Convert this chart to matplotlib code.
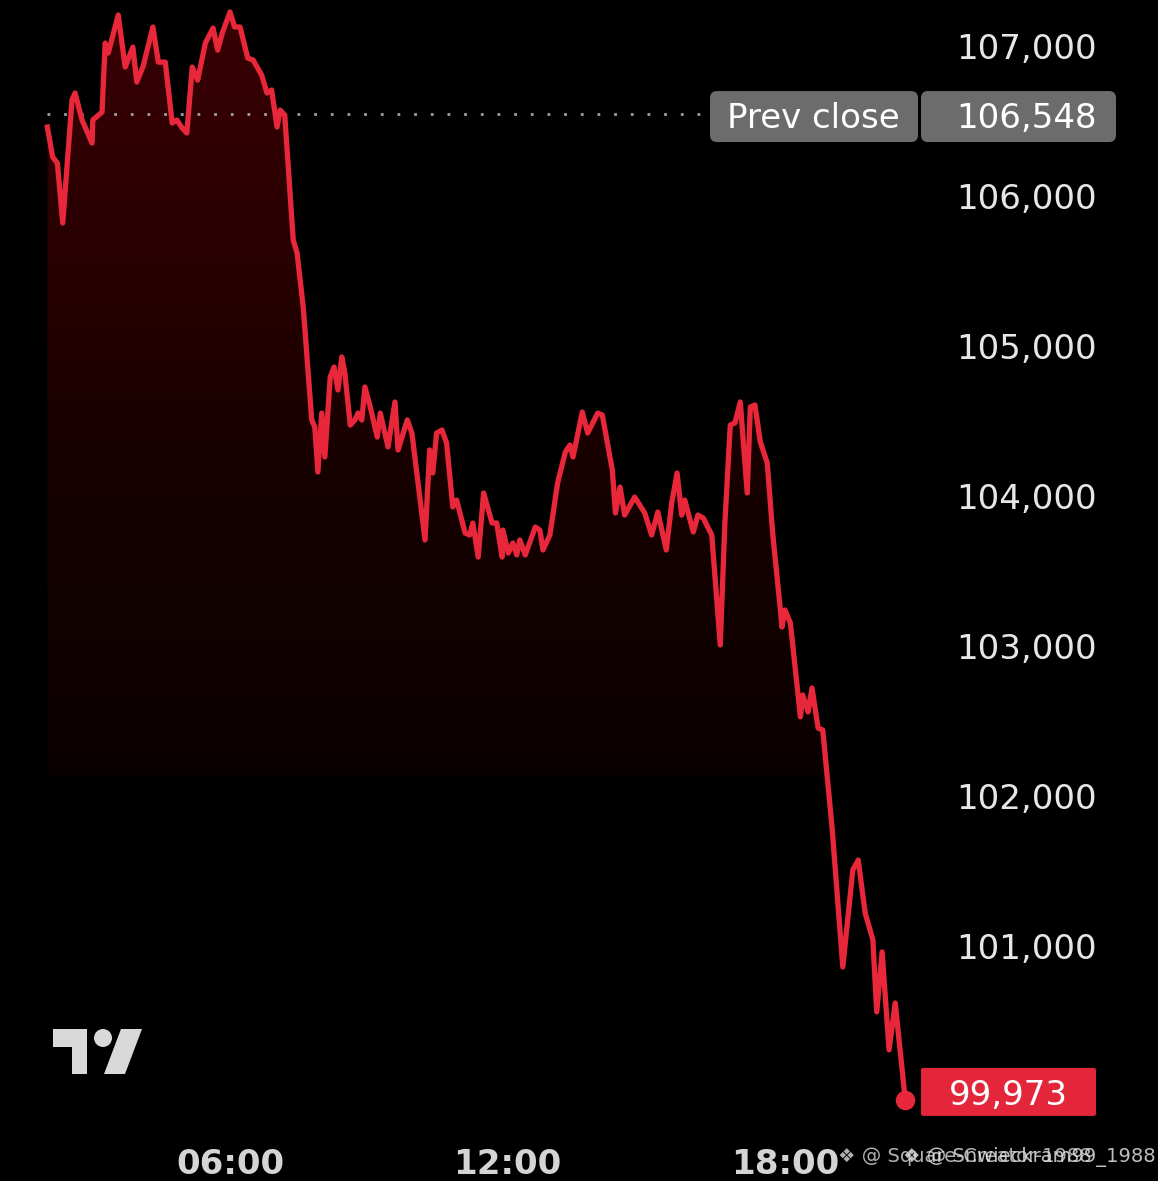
import numpy as np
import matplotlib
matplotlib.use("Agg")
import matplotlib.pyplot as plt
import matplotlib.transforms as mtransforms
from matplotlib.colors import LinearSegmentedColormap
from matplotlib.patches import FancyBboxPatch, Polygon, Ellipse

# price series (time of day, price)
times = [
    "02:03", "02:10", "02:16", "02:23", "02:35", "02:39", "02:48", "03:01", "03:02", "03:14",
    "03:18", "03:22", "03:35", "03:44", "03:54", "03:59", "04:07", "04:20", "04:27", "04:36",
    "04:45", "04:51", "04:58", "05:04", "05:11", "05:18", "05:28", "05:38", "05:44", "05:50",
    "06:00", "06:06", "06:13", "06:23", "06:30", "06:41", "06:48", "06:54", "07:01", "07:05",
    "07:11", "07:22", "07:27", "07:35", "07:46", "07:50", "07:54", "07:59", "08:03", "08:10",
    "08:15", "08:20", "08:25", "08:29", "08:36", "08:42", "08:46", "08:51", "08:55", "09:02",
    "09:11", "09:15", "09:25", "09:34", "09:38", "09:50", "09:56", "10:13", "10:19", "10:23",
    "10:28", "10:35", "10:41", "10:49", "10:54", "11:05", "11:11", "11:15", "11:22", "11:29",
    "11:40", "11:46", "11:53", "11:54", "12:01", "12:07", "12:12", "12:16", "12:23", "12:36",
    "12:42", "12:46", "12:55", "13:05", "13:15", "13:21", "13:25", "13:37", "13:44", "13:57",
    "14:03", "14:16", "14:20", "14:26", "14:32", "14:45", "14:58", "15:07", "15:15", "15:26",
    "15:33", "15:40", "15:46", "15:50", "16:01", "16:07", "16:14", "16:25", "16:36", "16:42",
    "16:49", "16:55", "17:02", "17:11", "17:15", "17:21", "17:28", "17:37", "17:44", "17:54",
    "17:56", "18:00", "18:07", "18:20", "18:23", "18:30", "18:35", "18:43", "18:49", "19:01",
    "19:15", "19:28", "19:35", "19:44", "19:54", "19:59", "20:06", "20:15", "20:23", "20:36",
]
prices = [
    106460, 106260, 106220, 105820, 106640, 106687, 106507, 106353, 106507, 106560,
    107020, 106953, 107207, 106860, 106993, 106760, 106860, 107127, 106893, 106893,
    106487, 106507, 106453, 106420, 106860, 106773, 107020, 107120, 106973, 107087,
    107227, 107127, 107127, 106920, 106907, 106807, 106687, 106707, 106460, 106573,
    106540, 105707, 105620, 105260, 104507, 104460, 104160, 104553, 104260, 104793,
    104860, 104707, 104927, 104820, 104473, 104507, 104553, 104507, 104727, 104593,
    104393, 104553, 104327, 104627, 104307, 104507, 104420, 103707, 104307, 104153,
    104420, 104440, 104353, 103927, 103973, 103753, 103740, 103820, 103593, 104020,
    103820, 103820, 103593, 103773, 103620, 103687, 103607, 103707, 103607, 103793,
    103773, 103640, 103740, 104087, 104293, 104340, 104260, 104560, 104420, 104553,
    104540, 104173, 103887, 104060, 103873, 103993, 103887, 103740, 103893, 103640,
    103953, 104153, 103873, 103973, 103760, 103873, 103853, 103740, 103007, 103820,
    104473, 104487, 104627, 104020, 104593, 104607, 104360, 104220, 103753, 103240,
    103127, 103240, 103153, 102527, 102673, 102560, 102720, 102453, 102440, 101793,
    100860, 101507, 101573, 101220, 101040, 100560, 100960, 100307, 100620, 99973,
]
prev_close = 106548
last_price = prices[-1]
price_ticks = [101000, 102000, 103000, 104000, 105000, 106000, 107000]
time_ticks = ["06:00", "12:00", "18:00"]
fill_floor = 102140

RED = "#e8283a"
W, H = 1158, 1181


def to_min(s):
    h, m = s.split(":")
    return int(h) * 60 + int(m)


x = np.array([to_min(t) for t in times])
y = np.array(prices)

fig = plt.figure(figsize=(W / 100, H / 100), dpi=100, facecolor="black")
ax = fig.add_axes([0, 0, 1, 1], facecolor="black")
ax.set_xlim(61.6, 1563.9)
ax.set_ylim(99433, 107307)
for s in ax.spines.values():
    s.set_visible(False)

# gradient area under the line, cut off at a floor
grad = np.linspace(0, 1, 256).reshape(-1, 1)
cmap = LinearSegmentedColormap.from_list(
    "fade", [(0, "#0b0000"), (0.35, "#150000"), (1, "#3a0004")])
img = ax.imshow(grad, extent=[x[0], x[-1], fill_floor, y.max()], origin="lower",
                aspect="auto", cmap=cmap, zorder=1, interpolation="bilinear")
area = Polygon(np.column_stack([np.r_[x, x[-1], x[0]],
                                np.r_[y, fill_floor, fill_floor]]),
               closed=True, facecolor="none", edgecolor="none")
ax.add_patch(area)
img.set_clip_path(area)

# previous close dotted line
ax.axhline(prev_close, xmin=47 / W, xmax=708 / W, color="#a0a0a0",
           lw=2.0, linestyle=(0, (1, 5)), zorder=2)

ax.plot(x, y, color=RED, lw=3.8, solid_joinstyle="round", zorder=3)
ax.plot(x[-1], y[-1], "o", ms=13, color=RED, zorder=4)

# axes ticks
ax.yaxis.tick_right()
ax.set_yticks(price_ticks, [f"{v:,}" for v in price_ticks], ha="right")
ax.tick_params(axis="y", length=0, pad=-43.9, labelsize=24.5, labelcolor="#e6e6e6")
ax.set_xticks([to_min(t) for t in time_ticks], time_ticks, fontweight="bold")
ax.tick_params(axis="x", length=0, pad=-24, labelsize=24.5, labelcolor="#d4d4d4")

# labels on the price axis
trans = mtransforms.blended_transform_factory(ax.transAxes, ax.transData)
box_h = 340
for x0, x1 in [(710, 918), (921, 1116)]:
    ax.add_patch(FancyBboxPatch((x0 / W, prev_close - box_h / 2 - 18), (x1 - x0) / W, box_h,
                                boxstyle="round,pad=0,rounding_size=0.006",
                                mutation_aspect=7778, transform=trans,
                                facecolor="#6c6c6c", edgecolor="none", zorder=5))
ax.text(813 / W, prev_close - 10, "Prev close", transform=trans, ha="center",
        va="center_baseline", fontsize=24.5, color="white", zorder=6)
ax.text(1097 / W, prev_close - 10, f"{prev_close:,}", transform=trans, ha="right",
        va="center_baseline", fontsize=24.5, color="white", zorder=6)

ax.add_patch(FancyBboxPatch((921 / W, last_price - 106), (1096 - 921) / W, 320,
                            boxstyle="round,pad=0,rounding_size=0.002",
                            mutation_aspect=7778, transform=trans,
                            facecolor="#e3263a", edgecolor="none", zorder=5))
ax.text(1008 / W, last_price + 54, f"{last_price:,}", transform=trans, ha="center",
        va="center_baseline", fontsize=24.5, color="white", zorder=6)

# TradingView logo


def px(pts):
    return [(a / W, 1 - b / H) for a, b in pts]


logo = "#d9d9d9"
ax.add_patch(Polygon(px([(53, 1029), (87, 1029), (87, 1074), (72, 1074), (72, 1047), (53, 1047)]),
                     transform=ax.transAxes, facecolor=logo, edgecolor="none"))
ax.add_patch(Polygon(px([(121, 1029), (142, 1029), (125, 1074), (104, 1074)]),
                     transform=ax.transAxes, facecolor=logo, edgecolor="none"))
ax.add_patch(Ellipse((103 / W, 1 - 1038 / H), 18 / W, 18 / H,
                     transform=ax.transAxes, facecolor=logo, edgecolor="none"))

# watermark (two overlapping stamps, as in the source image)
ax.text(838 / W, 1 - 1157 / H, "\u2756 @ Square-Creator-1988", transform=ax.transAxes,
        ha="left", va="center", fontsize=14, color="#d0d0d0", alpha=0.85, zorder=7)
ax.text(903 / W, 1 - 1157 / H, "\u2756 @ Snwieckram99_1988", transform=ax.transAxes,
        ha="left", va="center", fontsize=14, color="#e0e0e0", alpha=0.85, zorder=7)

fig.savefig("out.png", dpi=100, facecolor="black")
